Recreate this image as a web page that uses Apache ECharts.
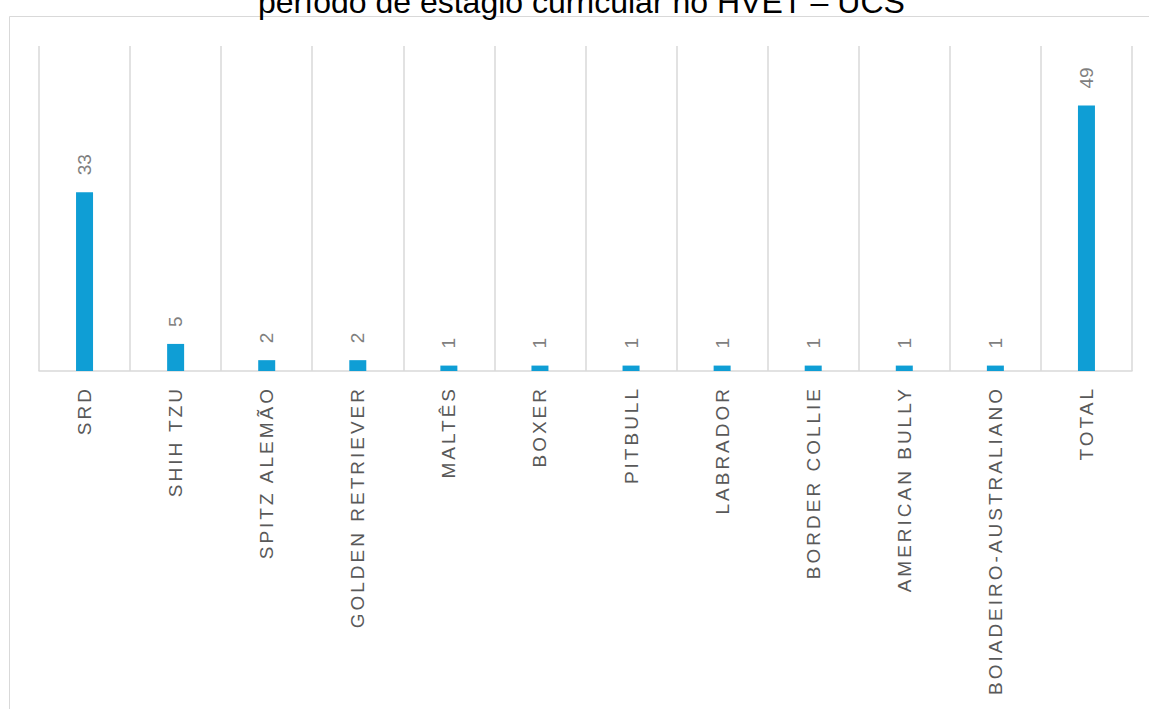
<!DOCTYPE html>
<html>
<head>
<meta charset="utf-8">
<script src="https://cdn.jsdelivr.net/npm/echarts@6/dist/echarts.min.js"></script>
<style>
  html, body { margin: 0; padding: 0; background: #fff; }
  #chart { width: 1149px; height: 709px; }
  #chart text[style*="Liberation Sans"] { letter-spacing: 3px; }
</style>
</head>
<body>
<div id="chart"></div>
<script>
const titleText = 'período de estágio curricular no HVET – UCS';
const categories = ['SRD', 'SHIH TZU', 'SPITZ ALEMÃO', 'GOLDEN RETRIEVER', 'MALTÊS', 'BOXER', 'PITBULL', 'LABRADOR', 'BORDER COLLIE', 'AMERICAN BULLY', 'BOIADEIRO-AUSTRALIANO', 'TOTAL'];
const values = [33, 5, 2, 2, 1, 1, 1, 1, 1, 1, 1, 49];

const chart = echarts.init(document.getElementById('chart'), null, { renderer: 'svg' });
chart.setOption({
  animation: false,
  backgroundColor: '#ffffff',
  title: {
    text: titleText,
    left: 258,
    top: -14,
    padding: 0,
    textStyle: { fontFamily: 'Arial', fontSize: 32, fontWeight: 'normal', color: '#000000', lineHeight: 32 }
  },
  graphic: [{
    type: 'rect',
    silent: true,
    shape: { x: 9.5, y: 16.5, width: 1300, height: 900 },
    style: { fill: 'none', stroke: '#d9d9d9', lineWidth: 1 }
  }],
  grid: { left: 39, right: 17, top: 46, bottom: 338, containLabel: false },
  xAxis: {
    type: 'category',
    data: categories,
    boundaryGap: true,
    axisLine: { show: true, lineStyle: { color: '#d9d9d9', width: 1.5 } },
    axisTick: { show: false },
    splitLine: { show: true, lineStyle: { color: '#d9d9d9', width: 1.5 } },
    axisLabel: {
      interval: 0,
      rotate: 90,
      margin: 15,
      color: '#595959',
      fontSize: 19,
      fontFamily: 'Liberation Sans'
    }
  },
  yAxis: {
    type: 'value',
    min: 0,
    max: 60,
    show: false,
    splitLine: { show: false }
  },
  series: [{
    type: 'bar',
    data: values,
    barWidth: 17,
    itemStyle: { color: '#0f9ed5' },
    label: {
      show: true,
      position: 'top',
      rotate: 90,
      align: 'left',
      verticalAlign: 'middle',
      distance: 17,
      color: '#7f7f7f',
      fontSize: 19,
      fontFamily: 'Arial'
    }
  }]
});
</script>
</body>
</html>
